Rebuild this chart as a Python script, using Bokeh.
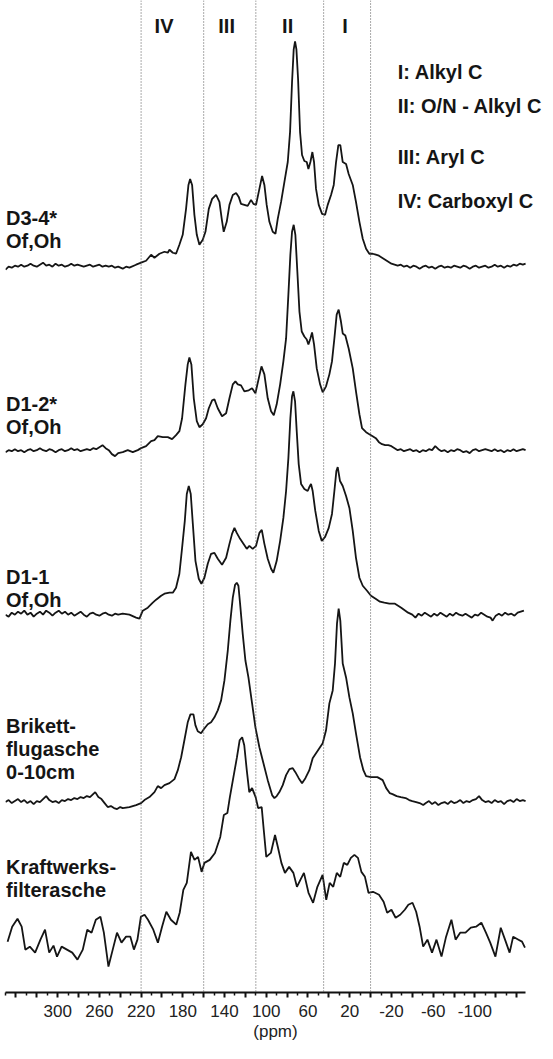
from bokeh.plotting import figure
from bokeh.models import Range1d, Span, Label, FixedTicker
from bokeh.embed import file_html
from bokeh.resources import INLINE

# ---------------- data (chemical shift in ppm, relative intensity) ----------------
d34_ppm = [350, 347, 344, 341, 338, 335, 332, 329, 326, 323, 320, 317, 314, 311, 308, 305, 302, 299, 296, 293,
           290, 287, 284, 281, 278, 275, 272, 269, 266, 263, 260, 257, 254, 251, 248, 245, 242,
           237.6, 234.4, 231.2, 224.8, 220, 215.2, 210.4, 207.2, 202.4, 197.6, 194.4, 192.8, 189.6, 186.5,
           183.3, 180.1, 176.9, 174.6, 173, 171.1, 168.9, 166.6, 164.1, 160.9, 158.3, 155.1, 151.9, 148.1,
           144.9, 142.7, 140.8, 137.9, 135.3, 132.1, 128.9, 126.4, 124.2, 121, 117.8, 114.6, 112.3, 109.8,
           106.6, 104, 101.8, 99.6, 97, 93.8, 91.2, 89, 85.8, 82.6, 79.4, 77.2, 75.3, 73.7, 72.4, 71.1, 69.5,
           67.6, 65.7, 63.5, 61.2, 59.6, 57.7, 55.8, 54.2, 52.3, 49.7, 46.5, 43.6, 41.1, 37.9, 35.3, 33.1,
           30.9, 29, 26.7, 23.5, 21, 17.1, 14, 10.7, 7.5, 4.3, 1.2, -2,
           -5, -8, -11, -14, -17, -20, -23, -26, -29, -32, -35, -38, -41, -44, -47, -50, -53, -56, -59, -62,
           -65, -68, -71, -74, -77, -80, -83, -86, -89, -92, -95, -98, -101, -104, -107, -110, -113, -116,
           -119, -122, -125, -128, -131, -134, -137, -140, -143, -146, -148.6]
d34_int = [-1, 2, 1, 3, 2, 4, 2, 3, 5, 3, 2, 4, 6, 3, 4, 2, 5, 3, 4, 2,
           3, 5, 3, 4, 3, 2, 3, 4, 2, 3, 4, 2, 3, 2, 3, 1, 2,
           0, 2, 1, 4, 6, 8, 14, 11, 15, 17, 16, 19, 16, 15,
           24, 34, 60, 84, 90, 84, 54, 34, 24, 29, 37, 60, 70, 74,
           67, 50, 37, 47, 64, 74, 76, 72, 65, 64, 63, 69, 65, 64,
           80, 93, 84, 64, 47, 37, 35, 50, 67, 87, 107, 137, 187, 220, 228, 220, 190,
           137, 114, 108, 107, 100, 107, 117, 107, 80, 64, 55, 54, 64, 74, 84, 107,
           124, 124, 107, 105, 95, 84, 67, 47, 30, 20, 15, 15,
           14, 13, 11, 9, 7, 5, 4, 3, 4, 2, 3, 1, 3, 2, 0, 2, 3, 1, 2, 0,
           2, 3, 1, 2, 1, 3, 2, 1, 3, 2, 0, 2, 3, 1, 2, 3, 1, 2,
           4, 2, 3, 1, 3, 2, 4, 3, 5, 4, 5]

d12_ppm = [350, 347, 344, 341, 338, 335, 332, 329, 326, 323, 320, 317, 314, 311, 308, 305, 302, 299, 296, 293,
           290, 287, 284, 281, 278, 275, 272, 269, 266, 263, 260, 257, 254, 251, 248, 245, 242,
           237.6, 232.8, 228, 223.2, 220, 215.2, 210.4, 207.2, 204, 199.2, 194.4, 190.3, 186.5, 183.3,
           180.7, 177.5, 175.3, 173.7, 171.8, 169.5, 166.6, 164.1, 160.9, 157.7, 155.1, 151.9, 149.7, 146.5,
           142.4, 138.5, 135.3, 132.1, 129.6, 127.3, 124.2, 121, 116.8, 113.6, 110.4, 107.2, 104.6, 101.8,
           98.6, 95.4, 92.8, 90, 86.7, 83.6, 81, 78.8, 76.9, 75.3, 73.7, 72.1, 70.2, 68.2, 66, 63.5, 61.2,
           59.6, 57.7, 56.1, 54.2, 51.6, 48.4, 45.9, 42.7, 39.5, 37, 34.7, 32.5, 30.6, 28.4, 26.7, 24.2,
           21, 17.1, 14, 10.7, 8.2, 4.3, 1.2, -2,
           -5, -8, -11, -14, -17, -20, -23, -26, -29, -32, -35, -38, -41, -44, -47, -50, -53, -56, -59, -62,
           -65, -68, -71, -74, -77, -80, -83, -86, -89, -92, -95, -98, -101, -104, -107, -110, -113, -116,
           -119, -122, -125, -128, -131, -134, -137, -140, -143, -146, -148.6]
d12_int = [0, 2, 1, 3, 1, 2, 0, 2, 3, 1, 2, 4, 2, 1, 3, 2, 0, 2, 3, 1,
           2, 4, 2, 3, 1, 2, 3, 2, 4, 3, 5, 7, 4, 2, -2, -4, -1,
           0, 2, 0, 2, 4, 6, 11, 12, 16, 15, 15, 13, 17, 21,
           34, 68, 88, 95, 88, 54, 31, 25, 28, 34, 44, 52, 53, 44,
           36, 39, 54, 68, 71, 68, 67, 61, 62, 64, 59, 74, 86, 78,
           54, 41, 37, 48, 68, 91, 114, 158, 198, 221, 228, 218, 181, 141, 121, 116, 113,
           108, 114, 120, 108, 84, 68, 60, 66, 78, 91, 114, 138, 143, 131, 119, 117,
           104, 84, 61, 38, 24, 20, 18, 16,
           14, 10, 8, 7, 7, 6, 4, 2, 3, 1, 2, 3, 1, 2, 0, 2, 1, 3, 2, 6,
           3, 1, 2, 0, 2, 1, 3, 2, 0, 1, -1, 2, 3, 1, 2, 3, 2, 1,
           3, 1, 2, 0, 2, 1, 3, 1, 2, 3, 2]

d11_ppm = [350, 347, 344, 341, 338, 335, 332, 329, 326, 323, 320, 317, 314, 311, 308, 305, 302, 299, 296, 293,
           290, 287, 284, 281, 278, 275, 272, 269, 266, 263, 260, 257, 254, 251, 248, 245, 242,
           237.6, 231.2, 224.8, 221.6, 218.4, 213.6, 208.8, 205.6, 200.8, 197.6, 192.8, 189.6, 186.5, 183.3,
           180.7, 178.1, 176.2, 174.3, 172.4, 170.4, 167.9, 164.7, 162.2, 159.3, 156.1, 152.9, 149.7, 146.5,
           142.4, 138.5, 135.3, 132.8, 130.5, 128.3, 125.1, 121.9, 118.7, 116.2, 113, 109.8, 106.6, 104.3,
           101.8, 98.6, 95.4, 93.2, 90, 86.7, 83.6, 81, 78.8, 76.9, 75.3, 74, 72.4, 70.8, 68.9, 66.6, 63.5,
           60.3, 58.7, 57.1, 55.5, 53, 49.7, 46.8, 43.6, 40.1, 37, 34.7, 32.8, 31.5, 29.3, 26.7, 23.5,
           20.3, 17.1, 14, 10.7, 7.5, 3.4, -0.4,
           -4.8, -9, -13.2, -18, -23.4, -29.4, -36, -40, -43, -46, -49, -52, -55, -58, -61, -64, -67, -70,
           -73, -76, -79, -82, -85, -88, -91, -94, -97, -100, -103, -106, -109, -112, -115, -117, -120, -123,
           -126, -129, -132, -135, -138, -141, -144, -147]
d11_int = [0, -2, 2, 0, 3, 1, 4, 0, 2, -2, 1, 3, 0, 4, 2, -1, 2, 4, 1, 3,
           0, 2, -1, 1, 3, 0, -2, 1, 2, 0, -1, 1, 2, 0, -1, 1, 0,
           1, 0, -3, -4, 4, 7, 12, 15, 19, 21, 22, 22, 27, 41,
           67, 94, 121, 129, 121, 91, 54, 36, 31, 37, 51, 61, 62, 56,
           50, 57, 71, 81, 87, 82, 76, 71, 66, 69, 66, 69, 82, 85,
           71, 56, 46, 42, 54, 74, 97, 124, 157, 197, 219, 224, 214, 184, 151, 131, 126,
           124, 128, 131, 124, 104, 84, 74, 78, 87, 101, 124, 144, 148, 134, 129, 119,
           107, 84, 57, 37, 29, 24, 19,
           16, 13, 12, 11, 11, 7, 2, 0, -3, 1, -1, 2, 0, -2, 1, -1, 2, 0,
           -2, 1, -1, 2, 0, -1, 1, -1, -3, 0, -1, 2, 0, -2, -3, -6, -1, 1,
           -1, 2, 0, 1, -1, 2, 3, 4]

brik_ppm = [350, 347, 344, 341, 338, 335, 332, 329, 326, 323, 320, 317, 314, 311, 308, 305, 302, 299, 296, 293,
            290, 287, 284, 281, 278, 275, 272, 269, 266, 264, 261, 258, 255, 252, 249, 246, 243, 240,
            237.6, 231.2, 224.8, 220, 216.8, 212, 207.2, 204, 200.8, 197.6, 192.8, 188, 184.8, 181.6,
            178.5, 175.3, 172.7, 169.8, 167.9, 165.7, 162.5, 159.9, 156.1, 152.9, 149.7, 146.5, 143.3, 140.1,
            136.9, 134.4, 132.1, 129.9, 128.3, 126.7, 125.1, 122.6, 120, 117.1, 113.6, 110.4, 106.6, 102.7,
            98.6, 94.4, 92.2, 90, 87.4, 84.2, 81, 77.8, 74.6, 72.1, 68.9, 65.7, 62.5, 58.7, 55.5, 52.3,
            49.1, 45.9, 42.7, 39.5, 36.3, 34.1, 32.2, 30.6, 29, 26.7, 23.5, 20.3, 17.1, 14, 10.1, 6.9, 4.3, -0.4,
            -6.5, -11.6, -15, -18.3, -21, -25, -29, -33.6, -37, -40, -43.7, -47, -50.5, -53, -56, -59, -62,
            -65, -68, -71, -74, -77, -80, -83, -86, -89, -92, -95, -98, -101, -104, -107, -110, -113, -116,
            -119, -122, -125, -128, -131, -134, -137, -140, -143, -146, -148.6]
brik_int = [0, 2, -1, 1, 3, 0, 2, -1, 1, -2, 1, 0, 3, 6, 2, 0, 1, -1, 2, 1,
            3, 2, 4, 3, 5, 4, 6, 5, 8, 10, 5, 3, -1, -5, -4, -6, -7, -5,
            -6, -5, -3, -1, 2, 5, 10, 16, 14, 17, 19, 23, 32, 45,
            62, 80, 88, 88, 77, 71, 69, 73, 78, 80, 85, 92, 102, 122,
            152, 182, 205, 218, 220, 217, 199, 169, 142, 125, 99, 75, 55, 39,
            22, 7, 4, 6, 10, 17, 27, 33, 34, 30, 24, 19, 24, 32, 44, 49,
            54, 59, 72, 99, 112, 139, 179, 194, 182, 139, 125, 105, 89, 69, 45, 32, 26, 25,
            25, 22, 14, 9, 8, 6, 5, 4, 2, 1, 0, -1, -3, -1, 1, -2, 0,
            -3, -1, 0, -2, 1, -1, 0, 2, -1, 1, 0, 2, 3, 6, 2, 0, 1, -1,
            2, 0, 1, -2, 1, 2, 0, 3, 1, 2, 1]

kraft_ppm = [348, 343.6, 338.5, 334.5, 331, 326.7, 321.6, 316.5, 312.1, 308.1, 304, 300.6, 296.2, 291.1, 286,
             281, 275.9, 271.6, 267.5, 263.4, 259, 255.7, 251.3, 247.2, 243.1, 238.8, 234.4, 230.3, 226.9,
             223.5, 220.2, 216.7, 213.4, 208.3, 203.9, 199.9, 195.8, 191.4, 186.3, 183, 179.5, 176.2, 172.2,
             168.8, 165.4, 162, 159.3, 154.2, 149.2, 144.1, 140.7, 137.3, 134.9, 131.5, 128.1, 125.5, 123.1,
             121.1, 118.7, 116.3, 113.6, 110.2, 107.8, 104.4, 102.4, 100, 95.6, 91.6, 88.9, 85.5, 82.1, 78.1,
             74, 70.6, 67.3, 63.9, 59.5, 55.1, 51, 46, 42.5, 39.2, 35.8, 32.4, 29.1, 25.7, 22.3, 18.9, 15.5,
             12.1, 8.8, 5.4, 2, -2.3, -8.1, -12.5, -15.9, -20, -24, -28.4, -32.8, -36.2, -40.2, -43.7, -47,
             -50.4, -54.5, -58.9, -63.2, -68, -72.4, -77.5, -81.5, -85.9, -91, -96.1, -101.1, -106.2, -110.6,
             -114.7, -119.7, -124.8, -128.9, -133.3, -136.7, -141.8, -145.2, -148]
kraft_int = [3, 18, 26, 18, -5, -2, -8, 5, 15, -8, -1, -12, -2, -5, -8,
             -15, -5, 15, 12, 25, 28, 12, -22, -5, 12, 2, 8, 8, -5,
             5, 28, 30, 25, 15, 2, 18, 33, 25, 20, 32, 55, 62, 93,
             85, 88, 73, 82, 85, 92, 108, 130, 132, 148, 168, 188, 205, 208,
             200, 175, 153, 157, 148, 137, 138, 115, 88, 92, 110, 98, 82, 72, 78,
             72, 58, 65, 72, 52, 42, 58, 70, 45, 62, 58, 72, 68, 82, 80, 87, 90,
             87, 73, 68, 52, 53, 50, 43, 32, 35, 27, 30, 35, 40, 42, 33, 18,
             -2, 5, -8, 5, -12, 8, 25, 5, 12, 12, 17, 18, 22, 12,
             2, -12, 17, 5, -8, 8, 5, 3, -3]

series_names = [["D3-4*", "Of,Oh"], ["D1-2*", "Of,Oh"], ["D1-1", "Of,Oh"],
                ["Brikett-", "flugasche", "0-10cm"], ["Kraftwerks-", "filterasche"]]
series_ppm = [d34_ppm, d12_ppm, d11_ppm, brik_ppm, kraft_ppm]
series_int = [d34_int, d12_int, d11_int, brik_int, kraft_int]
series_offset = [726, 542, 379, 191, 48]
label_top = [776.5, 590, 417, 267, 126]

region_bounds = [220, 160, 110, 45, 0]
region_names = ["IV", "III", "II", "I"]
region_label_ppm = [198, 138, 79.5, 24.5]
legend_lines = ["I: Alkyl C", "II: O/N - Alkyl C", "III: Aryl C", "IV: Carboxyl C"]
legend_y = [923.3, 889.3, 838, 794.3]

major_ticks = [340, 320, 300, 280, 260, 240, 220, 200, 180, 160, 140, 120, 100, 80, 60, 40, 20, 0,
               -20, -40, -60, -80, -100, -120, -140]
minor_ticks = [350, 330, 310, 290, 270, 250, 230, 210, 190, 170, 150, 130, 110, 90, 70, 50, 30, 10,
               -10, -30, -50, -70, -90, -110, -130]
tick_labels = {300: "300", 260: "260", 220: "220", 180: "180", 140: "140", 100: "100", 60: "60",
               20: "20", -20: "-20", -60: "-60", -100: "-100"}

FONT = "Liberation Sans"

p = figure(width=545, height=1043, x_range=Range1d(350, -167.7), y_range=Range1d(0, 995),
           output_backend="svg", toolbar_location=None, y_axis_location=None, title=None,
           min_border_left=5, min_border_right=0, min_border_top=0, min_border_bottom=48)
p.outline_line_color = None
p.grid.visible = False
p.background_fill_color = "white"
p.border_fill_color = "white"

for b in region_bounds:
    p.add_layout(Span(location=b, dimension="height", line_color="#555555",
                      line_width=1, line_dash="1 2"))

for xs, ys, off in zip(series_ppm, series_int, series_offset):
    p.line(x=xs, y=[off + v for v in ys], line_color="#151515", line_width=1.8)

ax = p.xaxis[0]
ax.bounds = (-148.6, 350)
ax.ticker = FixedTicker(ticks=major_ticks, minor_ticks=minor_ticks)
ax.major_label_overrides = {t: tick_labels.get(t, "") for t in major_ticks}
ax.axis_line_width = 2
ax.axis_line_color = "#111111"
ax.major_tick_out = 5
ax.major_tick_in = 0
ax.major_tick_line_width = 2
ax.major_tick_line_color = "#111111"
ax.minor_tick_out = 3
ax.minor_tick_in = 0
ax.minor_tick_line_width = 1.5
ax.minor_tick_line_color = "#111111"
ax.major_label_standoff = 7
ax.major_label_text_font = FONT
ax.major_label_text_font_size = "17px"
ax.major_label_text_color = "#222222"
ax.axis_label = "(ppm)"
ax.axis_label_standoff = 2
ax.axis_label_text_font = FONT
ax.axis_label_text_font_style = "normal"
ax.axis_label_text_font_size = "17px"
ax.axis_label_text_color = "#222222"

for lines, top in zip(series_names, label_top):
    for i, t in enumerate(lines):
        p.add_layout(Label(x=349.5, y=top - 23 * i, text=t, text_align="left",
                           text_baseline="alphabetic", text_font=FONT, text_font_style="bold",
                           text_font_size="20px", text_color="#151515"))

for name, xp in zip(region_names, region_label_ppm):
    p.add_layout(Label(x=xp, y=969.3, text=name, text_align="center", text_baseline="alphabetic",
                       text_font=FONT, text_font_style="bold", text_font_size="20px",
                       text_color="#151515"))

for t, yy in zip(legend_lines, legend_y):
    p.add_layout(Label(x=-26, y=yy, text=t, text_align="left", text_baseline="alphabetic",
                       text_font=FONT, text_font_style="bold", text_font_size="20px",
                       text_color="#151515"))

open("out.html", "w").write(file_html(p, INLINE))
